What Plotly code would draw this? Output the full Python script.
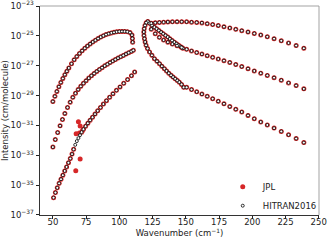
import numpy as np
import plotly.graph_objects as go

# ---------------- data (wavenumber in cm^-1, intensity as log10 of cm/molecule) ----------------
# left branches (present in both catalogues)
l1_x = [50, 51.5, 53, 54.5, 56, 57.5, 59, 60.5, 62, 64, 66, 68, 70, 72, 74, 76, 78, 80, 82, 84,
        86, 88, 90, 92, 94, 96, 98, 100, 102, 104, 106, 108, 109.5, 109.8, 110.0]
l1_log = [-29.40, -29.05, -28.72, -28.41, -28.12, -27.85, -27.60, -27.37, -27.15, -26.87, -26.60,
          -26.38, -26.18, -26.00, -25.83, -25.68, -25.54, -25.41, -25.29, -25.18, -25.08, -24.99,
          -24.91, -24.85, -24.80, -24.76, -24.73, -24.71, -24.70, -24.70, -24.72, -24.78, -24.95,
          -25.18, -25.42]

l2_x = [50, 51.8, 53.6, 55.4, 57.2, 59, 61, 63, 65, 67, 69, 71, 73, 75, 77, 79, 81, 83, 85, 87,
        89, 91, 93, 95, 97, 99, 101, 103, 105, 107, 109, 110.5]
l2_log = [-32.45, -31.95, -31.48, -31.03, -30.60, -30.20, -29.80, -29.44, -29.12, -28.84, -28.60,
          -28.38, -28.18, -28.00, -27.83, -27.67, -27.52, -27.38, -27.25, -27.13, -27.01, -26.90,
          -26.79, -26.69, -26.59, -26.49, -26.40, -26.31, -26.22, -26.13, -26.04, -25.97]

l3a_x = [50.5, 51.9, 53.3, 54.7, 56.1, 57.5, 58.9, 60.3, 61.7, 63.1, 64.4, 65.6]
l3a_log = [-35.84, -35.50, -35.18, -34.88, -34.60, -34.33, -34.05, -33.78, -33.50, -33.22, -32.92, -32.60]

# lines listed only in HITRAN2016
l3h_x = [66.8, 68.0, 69.2, 70.4]
l3h_log = [-32.30, -32.05, -31.85, -31.65]

l3b_x = [71.6, 73.0, 74.6, 76.3, 78.0, 79.8, 81.7, 83.7, 85.8, 88.0, 90.3, 92.7, 95.2, 97.8,
         100.5, 103.3, 106.2, 109.1, 111.5]
l3b_log = [-31.45, -31.25, -31.05, -30.85, -30.65, -30.45, -30.24, -30.02, -29.80, -29.57, -29.34,
           -29.11, -28.88, -28.65, -28.42, -28.18, -27.93, -27.67, -27.42]

# lines listed only in JPL
jpl_extra_x = [67.2, 67.5, 69.2, 69.9, 70.5, 70.5, 72.2]
jpl_extra_log = [-34.03, -31.55, -30.75, -31.50, -31.04, -33.25, -31.35]

# right side: dense hook branches
rd1_x = [121.4, 122.7, 124.5, 126.4, 128.0, 129.7, 131.4, 133.0, 134.7, 136.4, 138.0, 139.7,
         141.4, 143.0, 144.6, 146.2, 147.8]
rd1_log = [-24.03, -24.16, -24.30, -24.42, -24.53, -24.64, -24.75, -24.86, -24.97, -25.08, -25.20,
           -25.31, -25.42, -25.53, -25.63, -25.73, -25.83]

rd2_x = [120.2, 119.3, 118.7, 118.4, 118.5, 118.9, 119.4, 120.1, 121.2, 122.7, 124.5, 126.4,
         128.3, 130.2, 132.0, 133.9, 135.5, 137.2, 138.9, 140.4, 142.0, 143.6, 145.1, 146.8, 148.4]
rd2_log = [-24.12, -24.30, -24.52, -24.74, -24.97, -25.19, -25.41, -25.63, -25.85, -26.08, -26.30,
           -26.53, -26.70, -26.86, -27.03, -27.20, -27.35, -27.50, -27.64, -27.76, -27.88, -27.99,
           -28.10, -28.25, -28.45]

# right side: sparse branches
r_x = [124, 127, 130.1, 133.3, 136.5, 139.9, 143.4, 146.9, 150.6, 154.3, 158.2, 162.1, 166.1,
       170.2, 174.4, 178.7, 183.1, 187.6, 192.1, 196.8, 201.5, 206.4, 211.3, 216.4, 221.8, 227.3,
       233.0, 238.8]
r1_log = [-24.15, -24.12, -24.10, -24.08, -24.07, -24.06, -24.05, -24.05, -24.06, -24.08, -24.10,
          -24.13, -24.18, -24.24, -24.31, -24.39, -24.47, -24.56, -24.65, -24.74, -24.84, -24.94,
          -25.06, -25.19, -25.33, -25.48, -25.65, -25.83]
r2_log = [-24.55, -24.85, -25.10, -25.28, -25.42, -25.55, -25.66, -25.78, -25.90, -26.01, -26.12,
          -26.22, -26.33, -26.44, -26.55, -26.66, -26.78, -26.92, -27.06, -27.20, -27.35, -27.50,
          -27.65, -27.80, -27.97, -28.15, -28.33, -28.55]
r3_x = [150.6, 154.3, 158.2, 162.1, 166.1, 170.2, 174.4, 178.7, 183.1, 187.6, 192.1, 196.8, 201.5,
        206.4, 211.3, 216.4, 221.8, 227.3, 233.0, 238.8]
r3_log = [-28.45, -28.60, -28.75, -28.90, -29.05, -29.21, -29.38, -29.55, -29.74, -29.92, -30.10,
          -30.33, -30.55, -30.77, -30.97, -31.18, -31.40, -31.63, -31.88, -32.15]

x_ticks = [50, 75, 100, 125, 150, 175, 200, 225, 250]
y_tick_exp = [-23, -25, -27, -29, -31, -33, -35, -37]

# ---------------- assemble series ----------------
common_x = l1_x + l2_x + l3a_x + l3b_x + rd1_x + rd2_x + r_x + r_x + r3_x
common_log = l1_log + l2_log + l3a_log + l3b_log + rd1_log + rd2_log + r1_log + r2_log + r3_log

jpl_x = common_x + jpl_extra_x
jpl_y = list(10.0 ** np.array(common_log + jpl_extra_log))
hit_x = common_x + l3h_x
hit_y = list(10.0 ** np.array(common_log + l3h_log))

RED = "#d62728"
FONT = "DejaVu Sans"

fig = go.Figure()
fig.add_trace(go.Scatter(x=jpl_x, y=jpl_y, mode="markers", name="JPL",
                         marker=dict(color=RED, size=5, line=dict(width=0))))
fig.add_trace(go.Scatter(x=hit_x, y=hit_y, mode="markers", name="HITRAN2016",
                         marker=dict(color="white", size=3, line=dict(color="black", width=0.8))))

fig.update_layout(
    width=330, height=241,
    margin=dict(l=40, r=11, t=6, b=26),
    paper_bgcolor="white", plot_bgcolor="white",
    font=dict(family=FONT, size=8.5, color="#222"),
    legend=dict(x=0.655, xanchor="left", y=0.09, yanchor="middle",
                bgcolor="rgba(0,0,0,0)", font=dict(size=8.5), itemwidth=30),
    xaxis=dict(range=[40.3, 250.2], tickvals=x_ticks, ticks="outside", ticklen=3.5, tickwidth=0.8,
               tickcolor="#222", showline=True, linecolor="#333", linewidth=0.9,
               showgrid=False, zeroline=False, ticklabelstandoff=-5, ticklabeloverflow="allow",
               automargin=False,
               title=dict(text="Wavenumber (cm<sup>−1</sup>)", font=dict(size=8.5), standoff=0)),
    yaxis=dict(type="log", range=[-37.001, -22.999],
               tickvals=[10.0 ** e for e in y_tick_exp],
               ticktext=["10<sup>−%d</sup>" % (-e) for e in y_tick_exp],
               ticks="outside", ticklen=3.5, tickwidth=0.8, tickcolor="#222",
               showline=True, linecolor="#333", linewidth=0.9, showgrid=False, zeroline=False,
               ticklabeloverflow="allow", automargin=False,
               title=dict(text="Intensity (cm/molecule)", font=dict(size=8.5), standoff=0)),
    shapes=[
        dict(type="line", xref="paper", yref="paper", x0=0, x1=1, y0=1, y1=1,
             line=dict(color="#999", width=0.9)),
        dict(type="line", xref="paper", yref="paper", x0=1, x1=1, y0=0, y1=1,
             line=dict(color="#999", width=0.9)),
    ],
)

fig.write_html("out.html", config={"displayModeBar": False},
               post_script="document.body.style.margin='0';document.body.style.padding='0';")
